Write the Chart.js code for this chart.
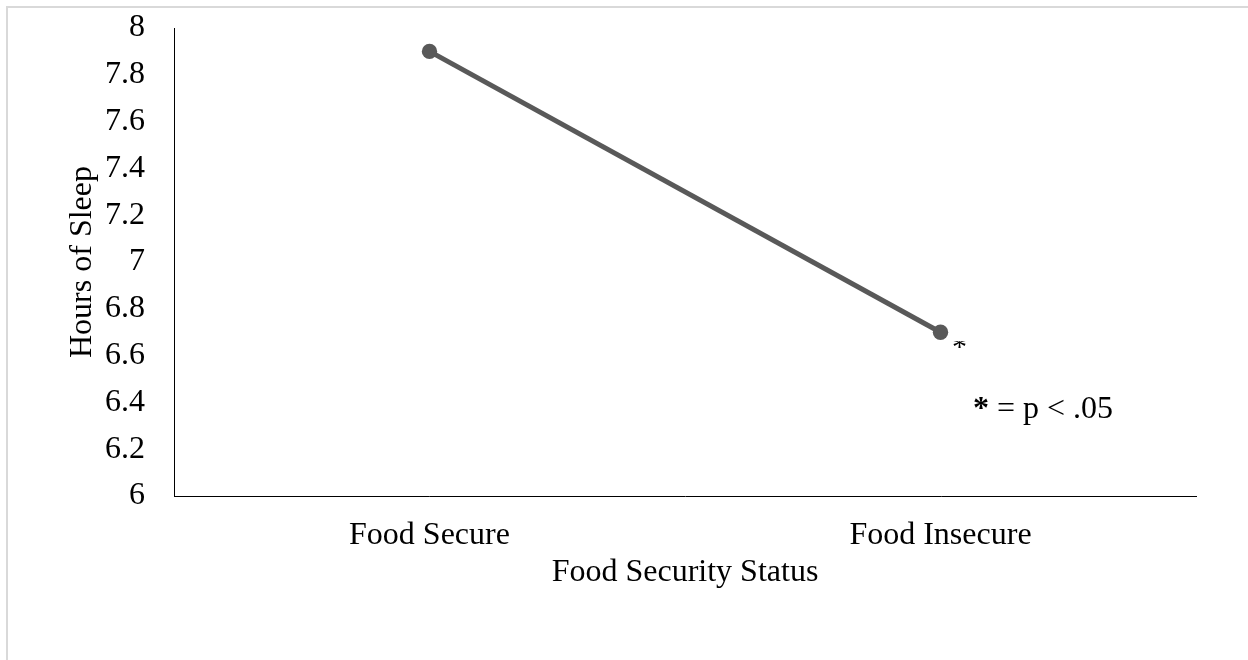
<!DOCTYPE html>
<html>
<head>
<meta charset="utf-8">
<script src="https://cdn.jsdelivr.net/npm/chart.js@4.4.1/dist/chart.umd.min.js"></script>
<style>
    html, body { margin: 0; padding: 0; background: #fff; overflow: hidden; }
    #wrap { position: relative; width: 1248px; height: 660px; }
    #frame {
        position: absolute; left: 6px; top: 6px; width: 1300px; height: 700px;
        border-left: 2px solid #d9d9d9; border-top: 2px solid #d9d9d9;
        pointer-events: none;
    }
</style>
</head>
<body>
<div id="wrap">
    <canvas id="sleepChart" width="1248" height="660"></canvas>
    <div id="frame"></div>
</div>
<script>
const categories = ['Food Secure', 'Food Insecure'];
const hoursOfSleep = [7.9, 6.7];
const yTickLabels = ['6', '6.2', '6.4', '6.6', '6.8', '7', '7.2', '7.4', '7.6', '7.8', '8'];
const xTitle = 'Food Security Status';
const yTitle = 'Hours of Sleep';
const noteText = ' = p < .05';

const serif = '"Liberation Serif", "Times New Roman", serif';
const fontSize = 32;

// asterisk next to the second point and the significance note
const notes = {
    id: 'notes',
    afterDatasetsDraw(chart) {
        const {ctx, chartArea, scales: {x, y}} = chart;
        const px = x.getPixelForValue(1);
        const py = y.getPixelForValue(hoursOfSleep[1]);

        // only the lower half of the star shows in the original
        ctx.save();
        ctx.fillStyle = '#000';
        ctx.font = `30px ${serif}`;
        ctx.textAlign = 'center';
        ctx.textBaseline = 'alphabetic';
        const m = ctx.measureText('*');
        const mid = (m.actualBoundingBoxAscent - m.actualBoundingBoxDescent) / 2;
        ctx.beginPath();
        ctx.rect(px + 6, py + 9, 30, 20);
        ctx.clip();
        ctx.fillText('*', px + 19, py + 10 + mid);
        ctx.restore();

        ctx.save();
        ctx.fillStyle = '#000';
        ctx.textBaseline = 'alphabetic';
        ctx.textAlign = 'left';
        const nx = chartArea.right - 223;
        const ny = chartArea.bottom - 78;
        ctx.font = `bold ${fontSize}px ${serif}`;
        ctx.fillText('*', nx, ny);
        const w = ctx.measureText('*').width;
        ctx.font = `${fontSize}px ${serif}`;
        ctx.fillText(noteText, nx + w, ny);
        ctx.restore();
    }
};

new Chart(document.getElementById('sleepChart'), {
    type: 'line',
    data: {
        labels: categories,
        datasets: [{
            data: hoursOfSleep,
            borderColor: '#595959',
            backgroundColor: '#595959',
            borderWidth: 5,
            pointRadius: 7.7,
            pointBackgroundColor: '#595959',
            pointBorderWidth: 0,
            tension: 0
        }]
    },
    options: {
        responsive: false,
        animation: false,
        layout: { padding: { top: 28, right: 52, left: 0, bottom: 0 } },
        plugins: {
            legend: { display: false },
            tooltip: { enabled: false }
        },
        scales: {
            x: {
                offset: true,
                grid: { display: false, drawTicks: false },
                border: { display: true, color: '#000', width: 1 },
                ticks: {
                    color: '#000',
                    padding: 20,
                    font: { family: serif, size: fontSize }
                },
                title: {
                    display: true,
                    text: xTitle,
                    color: '#000',
                    padding: { top: 0, bottom: 68 },
                    font: { family: serif, size: fontSize }
                },
                afterFit(scale) { scale.height = 164; }
            },
            y: {
                min: 6,
                max: 8,
                grid: { display: false, drawTicks: false },
                border: { display: true, color: '#000', width: 1 },
                ticks: {
                    stepSize: 0.2,
                    color: '#000',
                    padding: 29,
                    font: { family: serif, size: fontSize },
                    callback: (value, index) => yTickLabels[index]
                },
                title: {
                    display: true,
                    text: yTitle,
                    color: '#000',
                    padding: { top: 63, bottom: 0 },
                    font: { family: serif, size: fontSize }
                },
                afterFit(scale) {
                    scale.width = 174;
                    scale.paddingTop = 0;
                    scale.paddingBottom = 0;
                }
            }
        }
    },
    plugins: [notes]
});
</script>
</body>
</html>
